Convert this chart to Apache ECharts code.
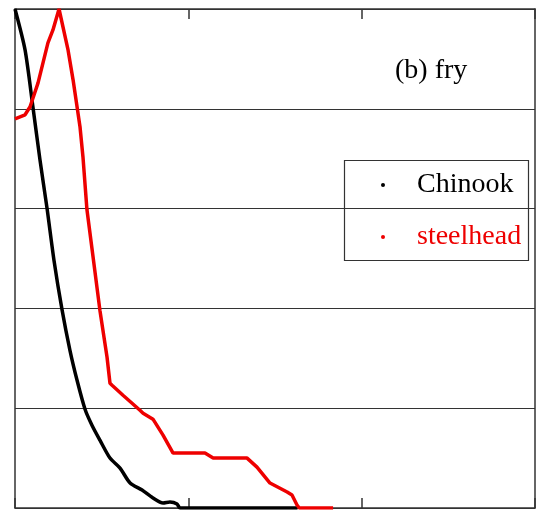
<!DOCTYPE html>
<html><head><meta charset="utf-8">
<script src="https://cdn.jsdelivr.net/npm/echarts@6/dist/echarts.min.js"></script>
<style>html,body{margin:0;padding:0;background:#fff}#c{width:539px;height:510px}</style>
</head><body><div id="c"></div>
<script>
// Chinook (black) trace: x, y
const chinookX = [0, 0.058, 0.104, 0.144, 0.185, 0.225, 0.271, 0.317, 0.358, 0.404, 0.444, 0.490, 0.548, 0.606, 0.664, 0.733, 0.796, 0.854, 0.894, 0.935, 0.952, 1.63];
const chinookY = [5.00, 4.59, 4.01, 3.49, 3.00, 2.48, 1.99, 1.58, 1.28, 0.99, 0.83, 0.68, 0.50, 0.40, 0.25, 0.18, 0.10, 0.05, 0.06, 0.04, 0, 0];
// steelhead (red) trace: x, y
const steelX = [0, 0.058, 0.087, 0.133, 0.190, 0.219, 0.254, 0.306, 0.335, 0.375, 0.392, 0.415, 0.450, 0.490, 0.531, 0.548, 0.560, 0.623, 0.721, 0.739, 0.796, 0.854, 0.912, 1.096, 1.143, 1.339, 1.396, 1.471, 1.570, 1.598, 1.627, 1.64, 1.835];
const steelY = [3.90, 3.94, 4.02, 4.26, 4.66, 4.79, 5.00, 4.59, 4.29, 3.82, 3.52, 2.99, 2.52, 1.98, 1.51, 1.25, 1.23, 1.13, 0.98, 0.95, 0.89, 0.73, 0.55, 0.55, 0.50, 0.50, 0.41, 0.25, 0.16, 0.13, 0.03, 0, 0];
const seriesNames = ['Chinook', 'steelhead'];
const panelLabel = '(b) fry';

const FONT = 'Liberation Serif';
const zip = (a, b) => a.map((v, i) => [v, b[i]]);
const chart = echarts.init(document.getElementById('c'));
const axisCommon = {
  type: 'value', axisLabel: {show: false},
  axisLine: {show: true, onZero: false, lineStyle: {color: '#333', width: 1.5}},
  axisTick: {show: true, inside: true, length: 10, lineStyle: {color: '#333', width: 1.5}},
  splitLine: {show: false}
};
chart.setOption({
  animation: false,
  grid: {left: 15, top: 9, right: 4, bottom: 2},
  xAxis: [
    Object.assign({}, axisCommon, {min: 0, max: 3, interval: 1, position: 'bottom'}),
    Object.assign({}, axisCommon, {min: 0, max: 3, interval: 1, position: 'top'})
  ],
  yAxis: [
    Object.assign({}, axisCommon, {min: 0, max: 5, interval: 1, position: 'left', axisTick: {show: false},
      splitLine: {show: true, lineStyle: {color: '#333', width: 1.2}}}),
    Object.assign({}, axisCommon, {min: 0, max: 5, interval: 1, position: 'right', axisTick: {show: false}})
  ],
  legend: {
    orient: 'vertical', left: 381, top: 170, icon: 'circle', itemWidth: 4, itemHeight: 4,
    itemGap: 22, padding: 0,
    textStyle: {fontFamily: FONT, fontSize: 28, lineHeight: 30, padding: [0, 0, 0, 27]},
    data: [
      {name: seriesNames[0], textStyle: {color: '#000'}},
      {name: seriesNames[1], textStyle: {color: '#e00'}}
    ]
  },
  graphic: [
    {type: 'rect', shape: {x: 344.5, y: 160.5, width: 184, height: 100}, style: {fill: 'none', stroke: '#333', lineWidth: 1.2}, z: 100},
    {type: 'text', left: 395, top: 57, style: {text: panelLabel, font: '28px "' + FONT + '"', fill: '#000'}, z: 100}
  ],
  series: [
    {name: seriesNames[0], type: 'line', data: zip(chinookX, chinookY), showSymbol: false, symbol: 'circle', smooth: 0.25,
      itemStyle: {color: '#000'}, lineStyle: {color: '#000', width: 3.5}},
    {name: seriesNames[1], type: 'line', data: zip(steelX, steelY), showSymbol: false, symbol: 'circle',
      itemStyle: {color: '#e00'}, lineStyle: {color: '#e00', width: 3.5}}
  ]
});
</script></body></html>
